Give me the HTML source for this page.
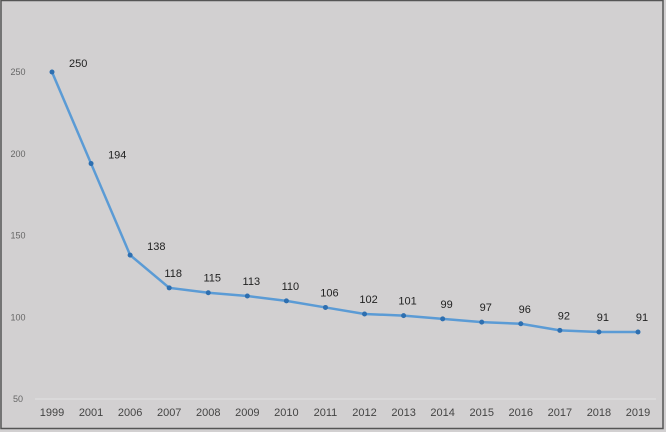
<!DOCTYPE html>
<html><head><meta charset="utf-8"><style>
body{margin:0;background:#d2d0d1;}
svg{display:block;font-family:"Liberation Sans",sans-serif;}
</style></head><body>
<svg width="666" height="432">
<rect x="0" y="0" width="666" height="432" fill="#d2d0d1"/>
<rect x="1" y="0.5" width="662" height="428" fill="none" stroke="#555" stroke-width="1.5"/>
<line x1="35" y1="399" x2="656" y2="399" stroke="#e2e2e2" stroke-width="1"/>
<g id="yt"></g>
<g id="xt"></g>
<path id="ln" fill="none" stroke="#5b9bd5" stroke-width="2.5"/>
<g id="pts"></g>
<g id="lbl"></g>
</svg>
<script>
const categories=["1999","2001","2006","2007","2008","2009","2010","2011","2012","2013","2014","2015","2016","2017","2018","2019"];
const values=[250,194,138,118,115,113,110,106,102,101,99,97,96,92,91,91];
const yTicks=[50,100,150,200,250];
const NS="http://www.w3.org/2000/svg";
const x=i=>52+i*(638-52)/(categories.length-1);
const y=v=>399-(v-50)*(399-72)/200;
function mk(t,a,p,txt){const e=document.createElementNS(NS,t);for(const k in a)e.setAttribute(k,a[k]);if(txt!=null)e.textContent=txt;p.appendChild(e);return e;}
const yt=document.getElementById('yt'),xt=document.getElementById('xt'),pts=document.getElementById('pts'),lbl=document.getElementById('lbl');
yTicks.forEach(v=>{const e=mk('text',{x:18,y:y(v)+3,'font-size':9,fill:'#666','text-anchor':'middle'},yt,v);

});
categories.forEach((c,i)=>{const e=mk('text',{x:x(i),y:416,'font-size':11,fill:'#444','text-anchor':'middle'},xt,c);

});
let d='';values.forEach((v,i)=>{d+=(i?'L':'M')+x(i)+','+y(v);});
document.getElementById('ln').setAttribute('d',d);
values.forEach((v,i)=>{const c=mk('circle',{cx:x(i),cy:y(v),r:2.5,fill:'#2e6fb0'},pts);


const early=i<3;
const t=mk('text',{x:early?x(i)+17:x(i)+4,y:early?y(v)-5:y(v)-11,'font-size':11,fill:'#222','text-anchor':early?'start':'middle'},lbl,v);

});
</script>
</body></html>
